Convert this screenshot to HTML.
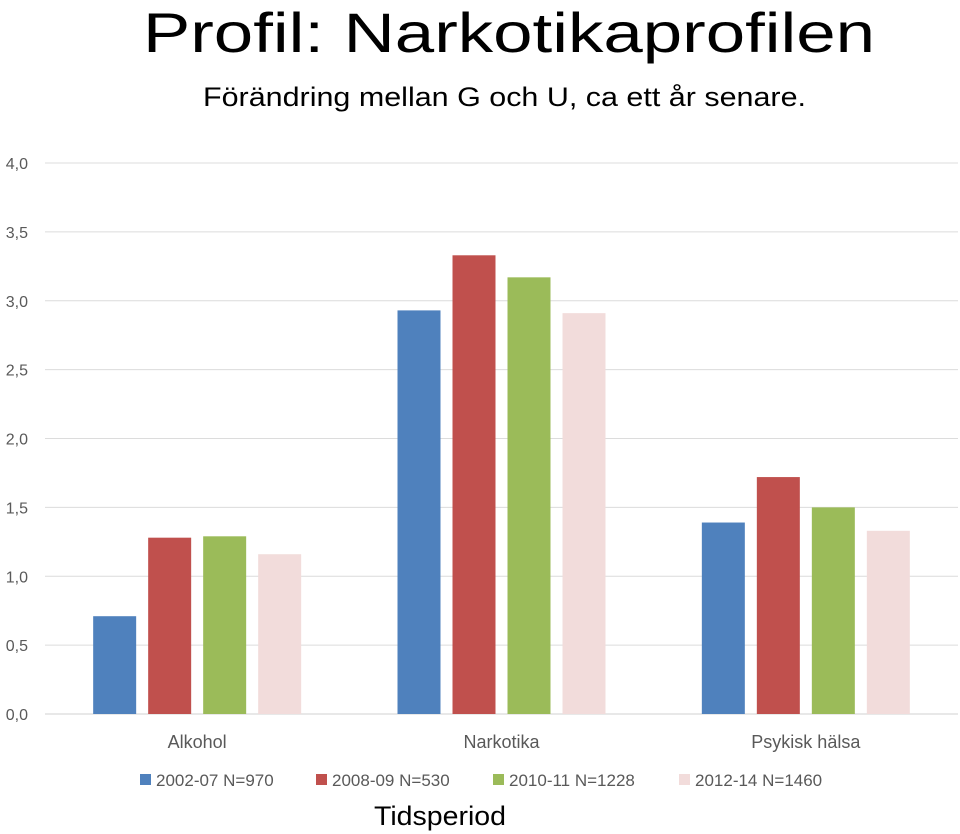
<!DOCTYPE html>
<html><head><meta charset="utf-8"><style>
html,body{margin:0;padding:0;background:#fff;}
svg{display:block;font-family:"Liberation Sans",sans-serif;}
</style></head><body>
<svg id="chart" width="960" height="834">
<text x="143" y="52" font-size="56" textLength="732" lengthAdjust="spacingAndGlyphs" fill="#000">Profil: Narkotikaprofilen</text>
<text x="203" y="106" font-size="27" textLength="603" lengthAdjust="spacingAndGlyphs" fill="#000">Förändring mellan G och U, ca ett år senare.</text>
<g id="grid"></g><g id="bars"></g><g id="labels"></g><g id="legend"></g>
<text x="374" y="825" font-size="27" textLength="132" lengthAdjust="spacingAndGlyphs" fill="#000">Tidsperiod</text>
</svg>
<script>
const categories = ["Alkohol","Narkotika","Psykisk hälsa"];
const seriesNames = ["2002-07 N=970","2008-09 N=530","2010-11 N=1228","2012-14 N=1460"];
const s1 = [0.71, 2.93, 1.39];
const s2 = [1.28, 3.33, 1.72];
const s3 = [1.29, 3.17, 1.50];
const s4 = [1.16, 2.91, 1.33];
const ticks = [0,0.5,1,1.5,2,2.5,3,3.5,4];
const tickLabels = ["0,0","0,5","1,0","1,5","2,0","2,5","3,0","3,5","4,0"];
const colors = ["#4F81BD","#C0504D","#9BBB59","#F2DCDB"];
const series = [s1,s2,s3,s4];
const NS="http://www.w3.org/2000/svg";
const x0=45,x1=958,yTop=163,yBot=714,yMax=4;
const y=v=>yBot-(v/yMax)*(yBot-yTop);
const gw=(x1-x0)/categories.length;
function mk(t,a,p){const e=document.createElementNS(NS,t);for(const k in a)e.setAttribute(k,a[k]);p.appendChild(e);return e;}
const grid=document.getElementById('grid');
ticks.forEach((t,i)=>{
  const l=mk('line',{x1:x0,x2:x1,y1:y(t),y2:y(t),stroke:i===0?'#d0d0d0':'#dcdcdc','stroke-width':1},grid);
  
  
  const tx=mk('text',{x:28,y:y(t)+6,'font-size':16,'text-anchor':'end',fill:'#595959'},grid);
  tx.textContent=tickLabels[i];
  
  
});
const bars=document.getElementById('bars');
const bw=43,step=55;
categories.forEach((c,ci)=>{
  const cx=x0+gw*(ci+0.5);
  series.forEach((s,si)=>{
    const bx=cx-1.5*step-bw/2+si*step;
    const r=mk('rect',{x:bx,y:y(s[ci]),width:bw,height:yBot-y(s[ci]),fill:colors[si]},bars);
    
    
  });
  const t=mk('text',{x:cx,y:748,'font-size':18,'text-anchor':'middle',fill:'#595959'},document.getElementById('labels'));
  t.textContent=c;
  
  
});
const leg=document.getElementById('legend');
const lx=[140,316,493,679];
seriesNames.forEach((n,i)=>{
  const r=mk('rect',{x:lx[i],y:774,width:11,height:11,fill:colors[i]},leg);
  
  
  const t=mk('text',{x:lx[i]+16,y:786,'font-size':17,fill:'#595959'},leg);
  t.textContent=n;
  
  
});
</script>
</body></html>
